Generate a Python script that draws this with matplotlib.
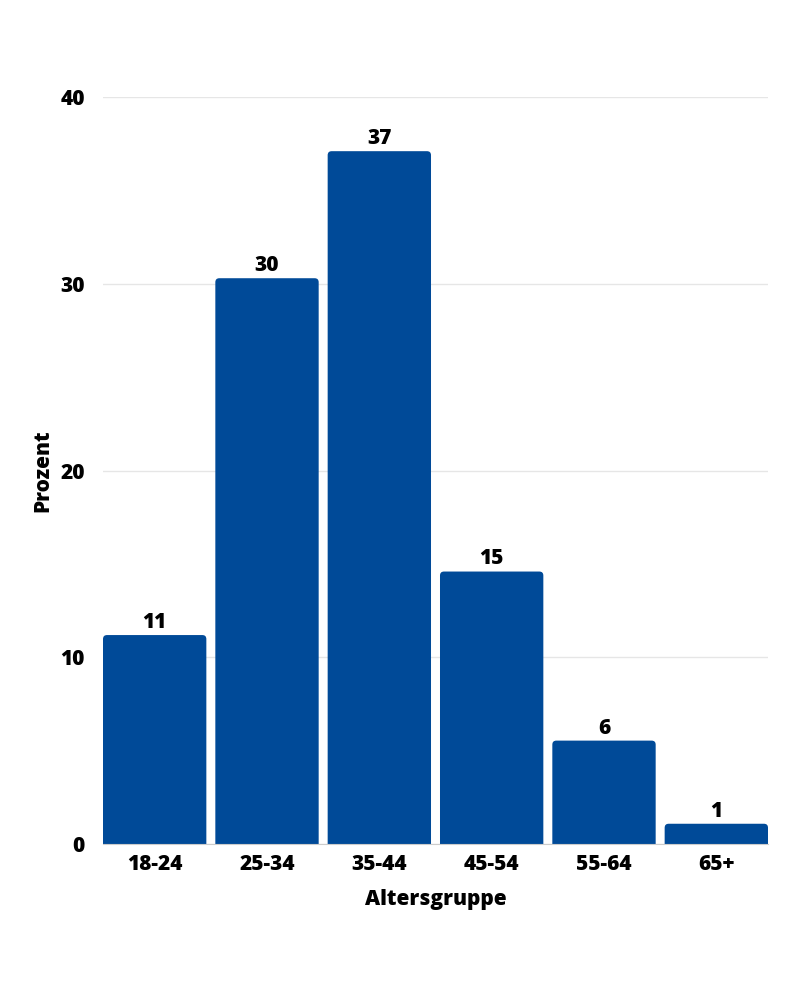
import matplotlib
matplotlib.use("Agg")
import matplotlib.pyplot as plt
from matplotlib.patches import FancyBboxPatch

categories = ["18-24", "25-34", "35-44", "45-54", "55-64", "65+"]
values = [11.2, 30.3, 37.1, 14.6, 5.55, 1.1]
labels = ["11", "30", "37", "15", "6", "1"]
yticks = [0, 10, 20, 30, 40]

plt.rcParams['font.family'] = ['Open Sans', 'DejaVu Sans']

FS = 15
FW = 800

fig = plt.figure(figsize=(8, 10), dpi=100)
ax = fig.add_axes([0.12875, 0.1557, 0.96 - 0.12875, 0.903 - 0.1557])

x = list(range(len(categories)))
w = 0.92
ax.set_xlim(-w / 2, len(categories) - 1 + w / 2)
ax.set_ylim(0, 40)
bars = ax.bar(x, values, width=w, color="#004a98", zorder=3)

# rounded top corners
fig.canvas.draw()
bb = ax.get_window_extent()
xr = ax.get_xlim(); yr = ax.get_ylim()
px_x = bb.width / (xr[1] - xr[0])
px_y = bb.height / (yr[1] - yr[0])
aspect = px_x / px_y
r = 4 / px_x
for b in bars:
    b.set_visible(False)
    ry = r * aspect
    p = FancyBboxPatch((b.get_x(), b.get_y() - ry), b.get_width(), b.get_height() + ry,
                       boxstyle=f"round,pad=0,rounding_size={r}", mutation_aspect=aspect,
                       facecolor="#004a98", edgecolor="none", zorder=3)
    ax.add_patch(p)

for xi, v, lab in zip(x, values, labels):
    ax.annotate(lab, (xi, v), xytext=(0, 1.5), textcoords="offset points",
                ha="center", va="bottom", fontsize=FS, fontweight=FW, color="black")

ax.set_yticks(yticks)
ax.set_yticklabels([str(t) for t in yticks])
ax.set_xticks(x)
ax.set_xticklabels(categories)
ax.tick_params(axis="both", length=0, labelsize=FS, colors="black")
ax.tick_params(axis="y", pad=13)
ax.tick_params(axis="x", pad=7)
for lab in ax.get_xticklabels() + ax.get_yticklabels():
    lab.set_fontweight(FW)

ax.grid(axis="y", color="#e6e6e6", linewidth=1, zorder=0)
for s in ["top", "right", "left"]:
    ax.spines[s].set_visible(False)
ax.spines["bottom"].set_color("#cccccc")
ax.spines["bottom"].set_zorder(4)

ax.set_xlabel("Altersgruppe", fontsize=FS, fontweight=FW, labelpad=10)
ax.set_ylabel("Prozent", fontsize=FS, fontweight=FW, labelpad=5)

fig.savefig("out.png", dpi=100, facecolor="white")
